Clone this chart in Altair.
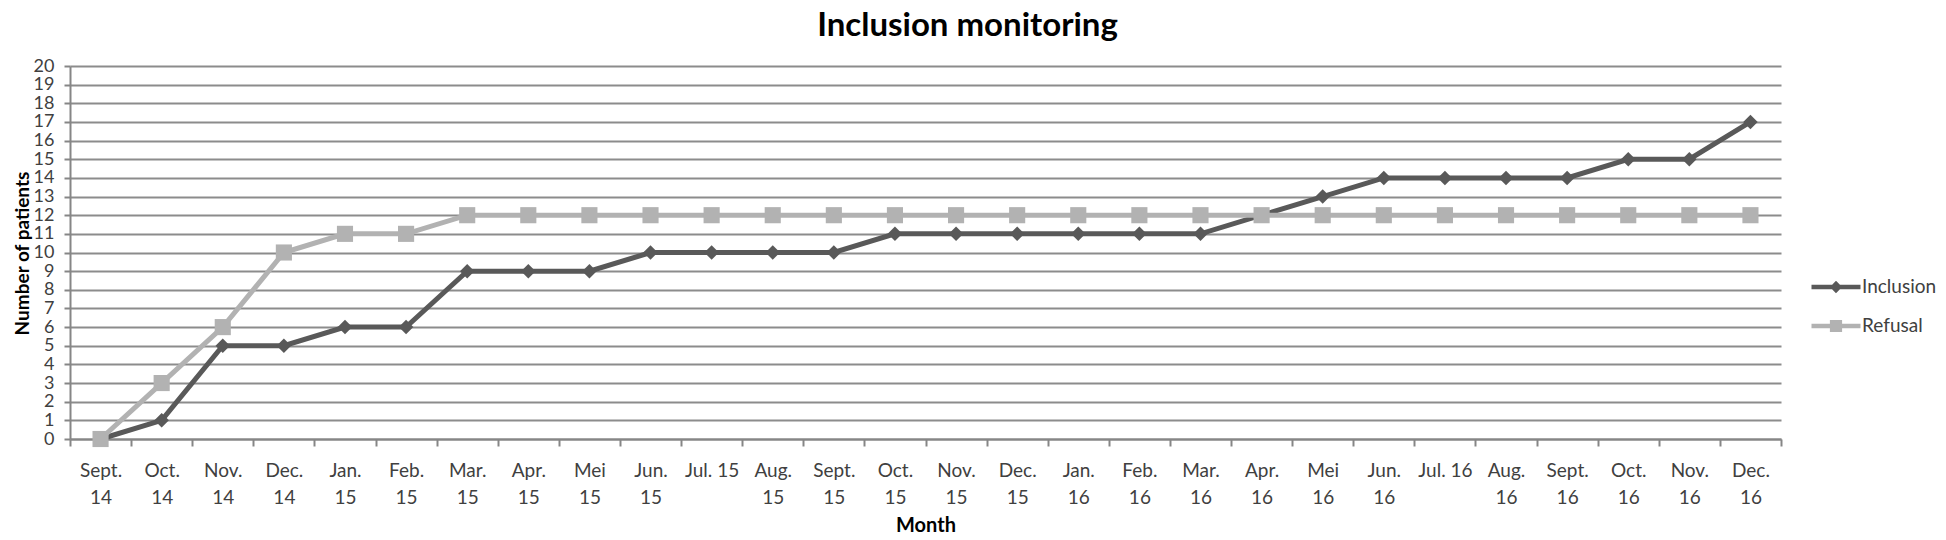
import altair as alt
import pandas as pd

months = ["Sept.|14", "Oct.|14", "Nov.|14", "Dec.|14", "Jan.|15", "Feb.|15", "Mar.|15",
          "Apr.|15", "Mei|15", "Jun.|15", "Jul. 15", "Aug.|15", "Sept.|15", "Oct.|15",
          "Nov.|15", "Dec.|15", "Jan.|16", "Feb.|16", "Mar.|16", "Apr.|16", "Mei|16",
          "Jun.|16", "Jul. 16", "Aug.|16", "Sept.|16", "Oct.|16", "Nov.|16", "Dec.|16"]
inclusion = [0, 1, 5, 5, 6, 6, 9, 9, 9, 10, 10, 10, 10, 11, 11, 11, 11, 11, 11, 12, 13,
             14, 14, 14, 14, 15, 15, 17]
refusal = [0, 3, 6, 10, 11, 11, 12, 12, 12, 12, 12, 12, 12, 12, 12, 12, 12, 12, 12, 12,
           12, 12, 12, 12, 12, 12, 12, 12]
series_names = ["Inclusion", "Refusal"]
y_ticks = list(range(0, 21))

colors = ["#595959", "#b2b2b2"]
point_shapes = ["diamond", "square"]
legend_shapes = ["M-1.4,0H1.4M-0.17,0L0,-0.17L0.17,0L0,0.17Z",
                 "M-1.4,0H1.4M-0.22,-0.22H0.22V0.22H-0.22Z"]

rows = []
for m, a, b in zip(months, inclusion, refusal):
    rows.append({"month": m, "series": series_names[0], "value": a})
    rows.append({"month": m, "series": series_names[1], "value": b})
df = pd.DataFrame(rows)

FONT = "Lato"
AX = "#868686"

x_enc = alt.X(
    "month:N", sort=months, bandPosition=0.5,
    scale=alt.Scale(type="band", paddingInner=0, paddingOuter=0),
    axis=alt.Axis(title="Month", tickBand="extent", labelAngle=0,
                  labelExpr="isValid(datum.value) ? split(datum.value, '|') : ''",
                  labelLineHeight=27,
                  labelFontSize=19, labelColor="#404040", labelPadding=15,
                  labelOverlap=False, tickSize=7, tickColor=AX, tickWidth=2,
                  domainColor=AX, domainWidth=2, grid=False,
                  titleFontSize=20, titleFontWeight="bold", titleColor="#000000",
                  titlePadding=8))
y_enc = alt.Y(
    "value:Q", scale=alt.Scale(domain=[0, 20], nice=False),
    axis=alt.Axis(title="Number of patients", values=y_ticks, format="d",
                  labelFontSize=18, labelColor="#404040", labelPadding=10,
                  tickSize=6, tickColor=AX, tickWidth=2, domainColor=AX, domainWidth=2,
                  grid=True, gridColor="#8c8c8c", gridWidth=2,
                  titleFontSize=19, titleFontWeight="bold", titleColor="#000000",
                  titleX=-38, titleY=187))

base = alt.Chart(df)

lines = base.mark_line(strokeWidth=5).encode(
    x=x_enc, y=y_enc,
    color=alt.Color("series:N", scale=alt.Scale(domain=series_names, range=colors), legend=None),
    order=alt.Order("series:N"),
)
points = base.mark_point(filled=True, opacity=1, size=210).encode(
    x=x_enc, y=y_enc,
    color=alt.Color("series:N", scale=alt.Scale(domain=series_names, range=colors), legend=None),
    shape=alt.Shape("series:N", scale=alt.Scale(domain=series_names, range=point_shapes), legend=None),
    size=alt.Size("series:N", scale=alt.Scale(domain=series_names, range=[210, 260]), legend=None),
)
legend_props = dict(title=None, orient="none", legendX=1746, legendY=201,
                    symbolSize=1225, symbolStrokeWidth=4.5,
                    labelFontSize=19, labelColor="#404040", labelFont=FONT,
                    labelOffset=6, rowPadding=7, labelLimit=300)
legend_layer = base.transform_filter("false").mark_point(
    filled=False, opacity=1, strokeWidth=4.5, size=1225).encode(
    color=alt.Color("series:N", scale=alt.Scale(domain=series_names, range=colors),
                    legend=alt.Legend(**legend_props)),
    shape=alt.Shape("series:N", scale=alt.Scale(domain=series_names, range=legend_shapes),
                    legend=alt.Legend(**legend_props)),
)

chart = alt.layer(lines, points, legend_layer).resolve_scale(
    color="independent", shape="independent", size="independent"
).properties(
    width=1711, height=373,
    autosize=alt.AutoSizeParams(type="none"),
    padding={"left": 62, "top": 58, "right": 157, "bottom": 100},
    title=alt.TitleParams("Inclusion monitoring", fontSize=33, fontWeight="bold",
                          font=FONT, color="#000000", anchor="middle",
                          offset=14, dx=42),
).configure(font=FONT).configure_view(stroke=None)

chart.save("out.html", embed_options={"renderer": "svg", "actions": False})
